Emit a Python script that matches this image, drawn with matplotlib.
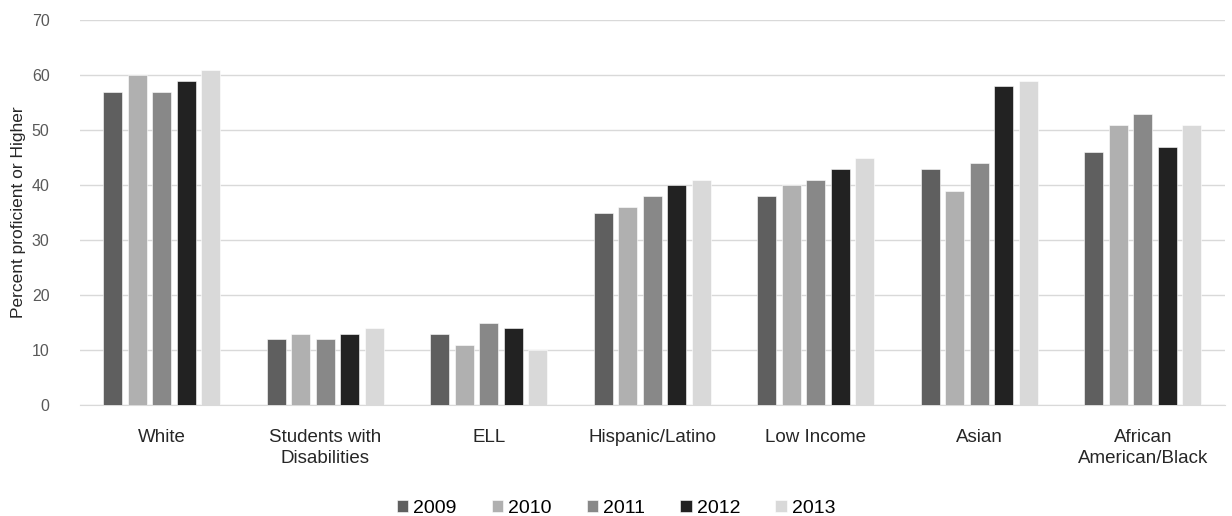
import numpy as np
import matplotlib.pyplot as plt

plt.rcParams['font.family'] = ['Liberation Sans', 'DejaVu Sans']

groups = ["White", "Students with\nDisabilities", "ELL", "Hispanic/Latino",
          "Low Income", "Asian", "African\nAmerican/Black"]
years = ["2009", "2010", "2011", "2012", "2013"]
y2009 = [57, 12, 13, 35, 38, 43, 46]
y2010 = [60, 13, 11, 36, 40, 39, 51]
y2011 = [57, 12, 15, 38, 41, 44, 53]
y2012 = [59, 13, 14, 40, 43, 58, 47]
y2013 = [61, 14, 10, 41, 45, 59, 51]
series = [y2009, y2010, y2011, y2012, y2013]
colors = ["#5f5f5f", "#b0b0b0", "#888888", "#222222", "#d9d9d9"]

fig = plt.figure(figsize=(12.32, 5.16), dpi=100)
ax = fig.add_axes([0.065, 0.215, 0.929, 0.746])

x = np.arange(len(groups))
step = 0.15
width = 0.117
for i, (vals, c, yr) in enumerate(zip(series, colors, years)):
    ax.bar(x + (i - 2) * step, vals, width, color=c, label=yr,
           edgecolor="white", linewidth=0.4, zorder=3)

ax.set_xlim(-0.5, len(groups) - 0.5)
ax.set_ylim(0, 70)
ax.set_yticks(range(0, 71, 10))
ax.grid(axis="y", color="#d9d9d9", linewidth=1, zorder=0)
for s in ["top", "right", "left"]:
    ax.spines[s].set_visible(False)
ax.spines["bottom"].set_color("#d9d9d9")
ax.set_xticks(x)
ax.set_xticklabels(groups, fontsize=13.5, color="#262626", linespacing=1.3)
ax.tick_params(axis="x", length=0, pad=17)
ax.tick_params(axis="y", length=0, labelsize=11.5, labelcolor="#595959", pad=22)
ax.set_ylabel("Percent proficient or Higher", fontsize=12.5, color="#262626", labelpad=4)

fig.legend(loc="lower center", bbox_to_anchor=(0.5, -0.035), ncol=5, frameon=False,
           fontsize=14, handlelength=0.6, handleheight=0.6, handletextpad=0.25,
           columnspacing=1.8)

fig.savefig("out.png", dpi=100)
